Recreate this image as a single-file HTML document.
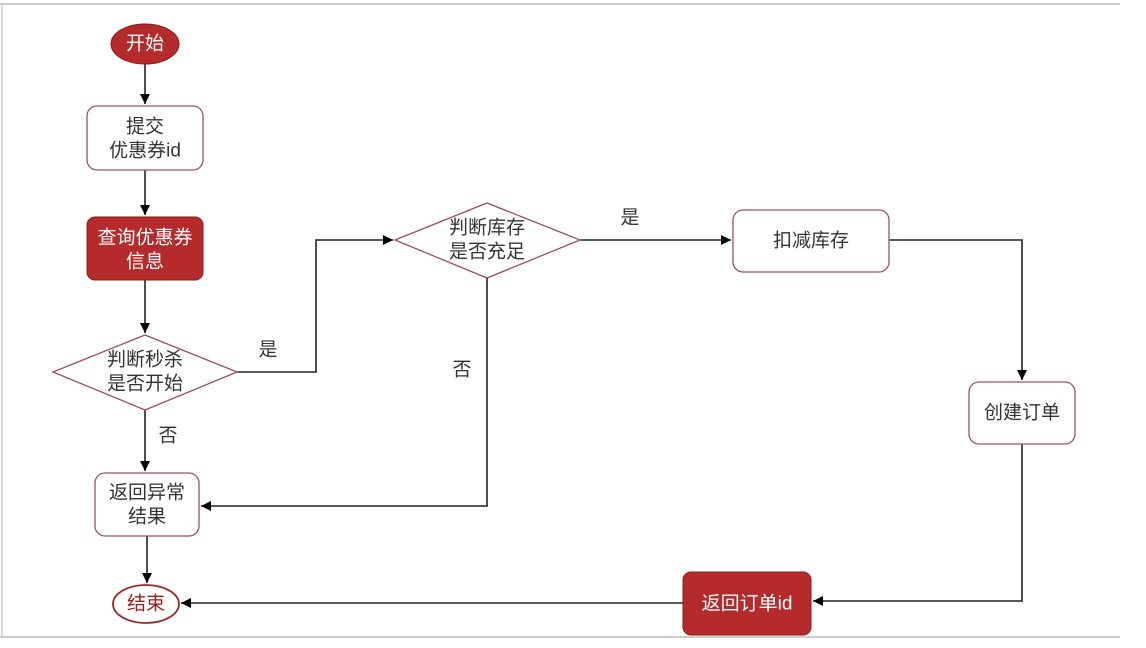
<!DOCTYPE html>
<html><head><meta charset="utf-8"><style>
html,body{margin:0;padding:0;background:#fff;}
svg text{font-family:"Liberation Sans","Noto Sans CJK SC",sans-serif;font-size:19px;text-anchor:middle;dominant-baseline:central;}
</style></head><body>
<svg width="1146" height="643" viewBox="0 0 1146 643" xmlns="http://www.w3.org/2000/svg">
<defs><marker id="a" markerWidth="12" markerHeight="12" refX="10" refY="5" orient="auto" markerUnits="userSpaceOnUse"><path d="M0,0 L10,5 L0,10 Z" fill="#000"/></marker></defs>
<rect x="0" y="0" width="1146" height="643" fill="#fff"/>
<line x1="0" y1="4" x2="1120" y2="4" stroke="#bbb" stroke-width="1.5"/>
<line x1="2" y1="4" x2="2" y2="637" stroke="#ccc" stroke-width="1.5"/>
<line x1="0" y1="637" x2="1120" y2="637" stroke="#bbb" stroke-width="1.5"/>
<g stroke="#222" stroke-width="1.6" fill="none">
<line x1="145" y1="64" x2="145" y2="104" marker-end="url(#a)"/>
<line x1="145" y1="170" x2="145" y2="215" marker-end="url(#a)"/>
<line x1="145" y1="280" x2="145" y2="333" marker-end="url(#a)"/>
<line x1="145" y1="410" x2="145" y2="471" marker-end="url(#a)"/>
<line x1="147" y1="536" x2="147" y2="583" marker-end="url(#a)"/>
<polyline points="237,372 316,372 316,240 393,240" marker-end="url(#a)"/>
<line x1="580" y1="240" x2="731" y2="240" marker-end="url(#a)"/>
<polyline points="889,240 1022,240 1022,380" marker-end="url(#a)"/>
<polyline points="1022,444 1022,601 813,601" marker-end="url(#a)"/>
<line x1="683" y1="603" x2="181" y2="603" marker-end="url(#a)"/>
<polyline points="487,278 487,506 201,506" marker-end="url(#a)"/>
</g>
<ellipse cx="145" cy="44" rx="34" ry="20" fill="#b52a2a" stroke="#8a1c1c"/>
<text x="145" y="44" fill="#fff">开始</text>
<rect x="87" y="106" width="116" height="64" rx="10" fill="#fff" stroke="#9a5060" stroke-width="1.3"/>
<text x="145" y="127" fill="#333">提交</text>
<text x="145" y="151" fill="#333">优惠券id</text>
<rect x="87" y="217" width="116" height="63" rx="8" fill="#b52a2a" stroke="#8a1c1c"/>
<text x="145" y="238" fill="#fff">查询优惠券</text>
<text x="145" y="262" fill="#fff">信息</text>
<polygon points="53,372 145,335 237,372 145,410" fill="#fff" stroke="#9a5060" stroke-width="1.3"/>
<text x="145" y="360" fill="#333">判断秒杀</text>
<text x="145" y="384" fill="#333">是否开始</text>
<text x="268" y="350" fill="#333">是</text>
<text x="168" y="436" fill="#333">否</text>
<rect x="95" y="473" width="104" height="63" rx="10" fill="#fff" stroke="#9a5060" stroke-width="1.3"/>
<text x="147" y="493" fill="#333">返回异常</text>
<text x="147" y="517" fill="#333">结果</text>
<ellipse cx="146" cy="604" rx="33" ry="19" fill="#fff" stroke="#9a2a2a" stroke-width="1.8"/>
<text x="146" y="604" fill="#9a1c1c">结束</text>
<polygon points="395,240 487,203 580,240 487,278" fill="#fff" stroke="#9a5060" stroke-width="1.3"/>
<text x="487" y="228" fill="#333">判断库存</text>
<text x="487" y="252" fill="#333">是否充足</text>
<text x="630" y="218" fill="#333">是</text>
<text x="462" y="370" fill="#333">否</text>
<rect x="733" y="210" width="156" height="62" rx="10" fill="#fff" stroke="#9a5060" stroke-width="1.3"/>
<text x="811" y="241" fill="#333">扣减库存</text>
<rect x="969" y="382" width="106" height="62" rx="10" fill="#fff" stroke="#9a5060" stroke-width="1.3"/>
<text x="1022" y="413" fill="#333">创建订单</text>
<rect x="683" y="572" width="128" height="63" rx="8" fill="#b52a2a" stroke="#8a1c1c"/>
<text x="747" y="604" fill="#fff">返回订单id</text>
</svg>
</body></html>
